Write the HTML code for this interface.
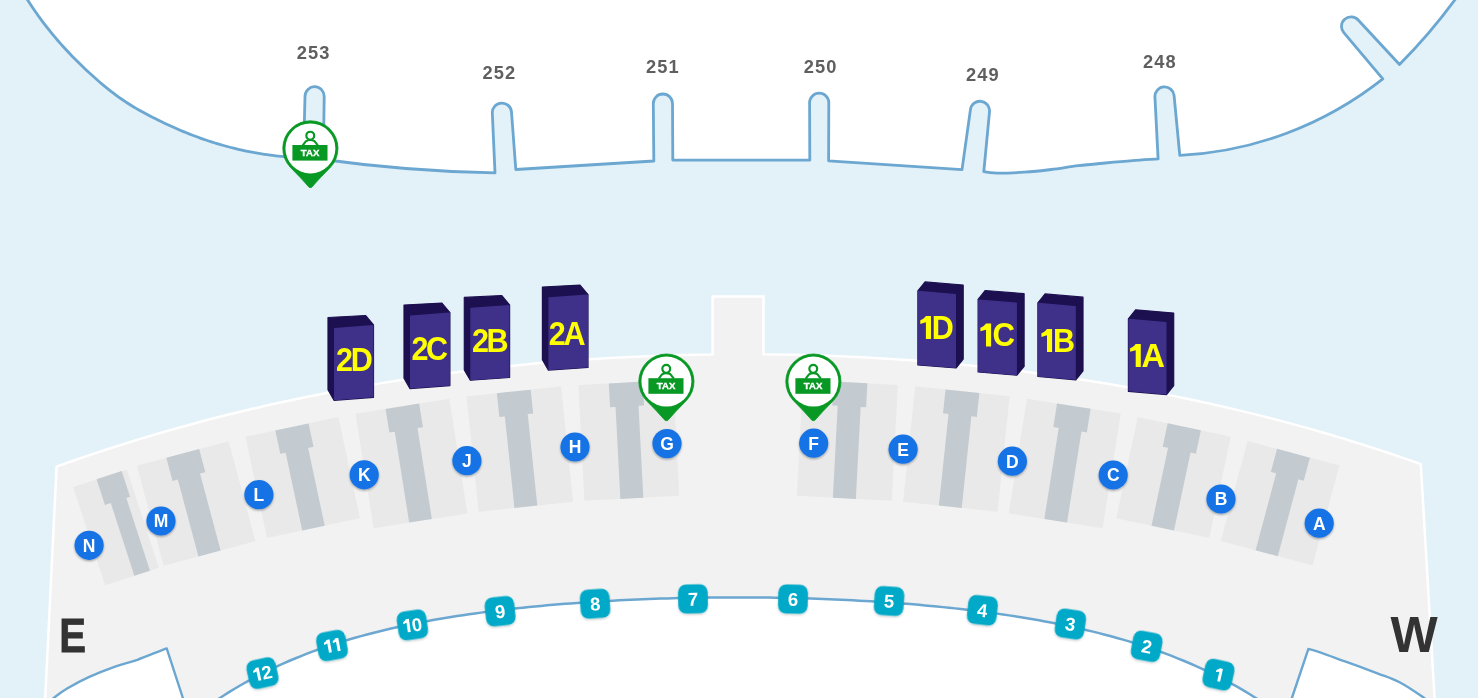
<!DOCTYPE html>
<html><head><meta charset="utf-8"><title>Terminal map</title>
<style>html,body{margin:0;padding:0;background:#e3f1f8;overflow:hidden;width:1478px;height:698px}svg{display:block;will-change:transform}</style>
</head><body>
<svg width="1478" height="698" viewBox="0 0 1478 698"><defs><filter id="sh" x="-30%" y="-30%" width="160%" height="170%"><feDropShadow dx="0" dy="1.2" stdDeviation="0.9" flood-color="#000" flood-opacity="0.35"/></filter><filter id="sh2" x="-30%" y="-30%" width="160%" height="170%"><feDropShadow dx="0" dy="1.2" stdDeviation="0.8" flood-color="#000" flood-opacity="0.22"/></filter></defs>
<rect width="1478" height="698" fill="#e3f1f8"/>
<path d="M-10,-10 L24.5,-4.98 L27.29,-0.5 L30.08,3.83 L32.87,8.02 L35.66,12.08 L38.45,16.02 L41.24,19.84 L44.03,23.56 L46.82,27.18 L49.61,30.7 L52.4,34.12 L55.19,37.47 L57.98,40.72 L60.77,43.91 L63.56,47.01 L66.35,50.05 L69.14,53.02 L71.93,55.93 L74.72,58.78 L77.51,61.58 L80.3,64.32 L83.09,67.02 L85.88,69.66 L88.67,72.26 L91.46,74.81 L94.25,77.32 L97.04,79.78 L99.83,82.19 L102.62,84.56 L105.41,86.87 L108.2,89.13 L110.99,91.32 L113.78,93.46 L116.57,95.54 L119.36,97.56 L122.15,99.51 L124.94,101.39 L127.73,103.22 L130.52,104.98 L133.31,106.69 L136.1,108.35 L138.89,109.96 L141.68,111.52 L144.47,113.04 L147.26,114.53 L150.05,115.99 L152.84,117.42 L155.63,118.82 L158.42,120.2 L161.21,121.55 L164,122.89 L166.79,124.2 L169.58,125.49 L172.37,126.76 L175.16,128 L177.95,129.22 L180.74,130.42 L183.53,131.59 L186.32,132.74 L189.11,133.86 L191.9,134.95 L194.69,136.02 L197.48,137.06 L200.27,138.07 L203.06,139.06 L205.85,140.02 L208.64,140.96 L211.43,141.87 L214.22,142.75 L217.01,143.6 L219.8,144.43 L222.59,145.24 L225.38,146.02 L228.17,146.77 L230.96,147.5 L233.75,148.2 L236.54,148.88 L239.33,149.53 L242.12,150.16 L244.91,150.76 L247.7,151.34 L250.49,151.9 L253.28,152.43 L256.07,152.94 L258.86,153.42 L261.65,153.88 L264.44,154.32 L267.23,154.73 L270.02,155.12 L272.81,155.48 L275.6,155.83 L278.39,156.15 L281.18,156.44 L283.97,156.71 L286.76,156.96 L289.55,157.19 L292.34,157.39 L295.13,157.57 L297.92,157.73 L300.71,157.87 L303.5,157.98 L305,96.12 A9.6,9.6 0 0 1 324.2,96.48 L323.3,159.5 A1423.5,1423.5 0 0 0 495,172.9 L492.32,112.97 A9.6,9.6 0 0 1 511.48,111.83 L515.8,169.5 L653.8,161 L653.3,103.67 A9.6,9.6 0 0 1 672.5,103.53 L672.8,160 L809.8,160.1 L809.6,102.8 A9.6,9.6 0 0 1 828.8,102.8 L828.6,160.8 L962,169.6 L970.47,109.47 A9.6,9.6 0 0 1 989.53,111.73 L983.8,171.7 C987.48,172.57 990.38,173.12 997.1,173.2 C1003.82,173.28 1015.08,172.82 1024.1,172.2 C1033.12,171.58 1042.17,170.58 1051.2,169.5 C1060.23,168.42 1069.28,166.78 1078.3,165.7 C1087.32,164.62 1096.28,163.85 1105.3,163 C1114.32,162.15 1123.6,161.28 1132.4,160.6 C1141.2,159.92 1151.83,159.33 1158.1,158.9 L1154.93,96.9 A9.6,9.6 0 0 1 1174.07,95.5 L1179.8,155.4 A355.4,355.4 0 0 0 1382.8,78.9 L1343.81,32.66 A9.6,9.6 0 0 1 1358.19,19.94 L1399.5,64.5 A573,573 0 0 0 1458.4,-5 L1490,-10 Z" fill="#fff" stroke="#6ba7d0" stroke-width="2.8" stroke-linejoin="round"/>
<path d="M44.6,705 L45.2,698 L56.6,466.57 L73,460.76 L89.4,455.14 L105.8,449.71 L122.2,444.46 L138.6,439.39 L155,434.49 L171.4,429.76 L187.8,425.2 L204.2,420.81 L220.6,416.58 L237,412.5 L253.4,408.59 L269.8,404.83 L286.2,401.22 L302.6,397.76 L319,394.45 L335.4,391.28 L351.8,388.25 L368.2,385.37 L384.6,382.62 L401,380.01 L417.4,377.53 L433.8,375.19 L450.2,372.98 L466.6,370.89 L483,368.94 L499.4,367.11 L515.8,365.41 L532.2,363.83 L548.6,362.37 L565,361.04 L581.4,359.83 L597.8,358.73 L614.2,357.76 L630.6,356.9 L647,356.17 L663.4,355.55 L679.8,355.04 L696.2,354.65 L712.6,354.38 L712.6,296.5 L763.5,296.5 L763.5,354.28 L779.93,354.49 L796.37,354.81 L812.8,355.25 L829.23,355.81 L845.66,356.48 L862.1,357.27 L878.53,358.18 L894.96,359.21 L911.39,360.36 L927.83,361.64 L944.26,363.03 L960.69,364.55 L977.12,366.19 L993.55,367.96 L1009.99,369.85 L1026.42,371.87 L1042.85,374.02 L1059.28,376.31 L1075.72,378.72 L1092.15,381.27 L1108.58,383.96 L1125.01,386.79 L1141.45,389.75 L1157.88,392.86 L1174.31,396.12 L1190.74,399.52 L1207.18,403.07 L1223.61,406.77 L1240.04,410.63 L1256.47,414.64 L1272.91,418.81 L1289.34,423.15 L1305.77,427.65 L1322.2,432.32 L1338.64,437.16 L1355.07,442.18 L1371.5,447.38 L1387.93,452.75 L1404.37,458.31 L1420.8,464.06 L1435,705 Z" fill="#f2f2f2" stroke="#fff" stroke-width="2.5" stroke-linejoin="miter"/>
<polygon points="136.87,465.76 228.63,441.18 255.42,541.15 163.65,565.74" fill="#e9e9e9"/>
<polygon points="166.33,457.87 199.17,449.07 205.35,472.16 200.04,473.58 220.64,550.47 198.43,556.42 177.82,479.53 172.51,480.95" fill="#c3cbd0"/>
<polygon points="245.48,436.83 338.4,417.08 359.92,518.32 267,538.07" fill="#e9e9e9"/>
<polygon points="275.31,430.49 308.57,423.42 313.54,446.8 308.16,447.94 324.71,525.8 302.21,530.59 285.66,452.73 280.28,453.87" fill="#c3cbd0"/>
<polygon points="355.47,413.68 449.3,398.82 467.44,513.39 373.61,528.26" fill="#e9e9e9"/>
<polygon points="385.59,408.91 419.17,403.59 422.91,427.2 417.48,428.06 431.89,519.03 409.17,522.62 394.76,431.66 389.33,432.52" fill="#c3cbd0"/>
<polygon points="466.52,396.38 561,386.45 573.13,501.82 478.65,511.75" fill="#e9e9e9"/>
<polygon points="496.86,393.2 530.67,389.64 533.17,413.41 527.7,413.99 537.33,505.58 514.45,507.98 504.83,416.39 499.36,416.96" fill="#c3cbd0"/>
<polygon points="578.34,384.98 673.21,380.01 679.28,495.85 584.41,500.82" fill="#e9e9e9"/>
<polygon points="608.8,383.38 642.75,381.6 644,405.47 638.51,405.76 643.33,497.73 620.36,498.94 615.54,406.96 610.05,407.25" fill="#c3cbd0"/>
<polygon points="802.99,379.96 897.86,384.94 891.79,500.78 796.92,495.81" fill="#e9e9e9"/>
<polygon points="833.45,381.56 867.4,383.34 866.15,407.21 860.66,406.92 855.84,498.89 832.87,497.69 837.69,405.72 832.2,405.43" fill="#c3cbd0"/>
<polygon points="915.2,386.37 1009.68,396.3 997.55,511.66 903.08,501.73" fill="#e9e9e9"/>
<polygon points="945.53,389.56 979.35,393.11 976.85,416.88 971.38,416.31 961.75,507.9 938.88,505.5 948.51,413.9 943.04,413.33" fill="#c3cbd0"/>
<polygon points="1026.91,398.7 1120.74,413.56 1102.6,528.13 1008.77,513.27" fill="#e9e9e9"/>
<polygon points="1057.04,403.47 1090.62,408.79 1086.88,432.39 1081.45,431.53 1067.04,522.5 1044.32,518.9 1058.73,427.94 1053.3,427.07" fill="#c3cbd0"/>
<polygon points="1137.82,416.91 1230.74,436.67 1209.22,537.9 1116.3,518.15" fill="#e9e9e9"/>
<polygon points="1167.65,423.26 1200.91,430.32 1195.94,453.7 1190.56,452.56 1174.01,530.42 1151.51,525.64 1168.06,447.78 1162.68,446.63" fill="#c3cbd0"/>
<polygon points="1247.6,440.97 1339.36,465.56 1312.57,565.53 1220.81,540.94" fill="#e9e9e9"/>
<polygon points="1277.06,448.86 1309.9,457.66 1303.72,480.75 1298.4,479.32 1277.8,556.21 1255.58,550.26 1276.19,473.37 1270.87,471.95" fill="#c3cbd0"/>
<polygon points="73.11,486.89 126.85,469.43 158.83,567.87 105.1,585.33" fill="#e9e9e9"/>
<polygon points="96.6,479.26 121.71,471.1 130.06,496.78 126.35,497.98 149.99,570.74 134.39,575.81 110.75,503.05 104.95,504.94" fill="#c3cbd0"/>
<path d="M44,706 C48.02,702.95 50.25,700.62 54.1,697.7 C57.95,694.78 61.33,691.93 67.1,688.5 C72.87,685.07 80.58,680.8 88.7,677.1 C96.82,673.4 107.68,669.18 115.8,666.3 C123.92,663.42 128.92,662.78 137.4,659.8 C145.88,656.82 159.6,650.87 166.7,648.4 L182.9,698 L185,710 L40,710 Z" fill="#fff" stroke="#6ba7d0" stroke-width="2.4" stroke-linejoin="round"/>
<path d="M1289,710 L1291.9,698 L1308.4,648.9 C1315.9,650.47 1333.5,657.33 1345,661.4 C1356.5,665.47 1368.38,669.87 1377.4,673.3 C1386.42,676.73 1391.52,678.03 1399.1,682 C1406.68,685.97 1417.42,693.27 1422.9,697.1 C1428.38,700.93 1429.15,702.02 1432,705 L1440,715 Z" fill="#fff" stroke="#6ba7d0" stroke-width="2.4" stroke-linejoin="round"/>
<path d="M205,708.28 L211,704.02 L217,699.92 L223,695.97 L229,692.17 L235,688.5 L241,684.97 L247,681.57 L253,678.29 L259,675.13 L265,672.09 L271,669.16 L277,666.34 L283,663.62 L289,661 L295,658.48 L301,656.05 L307,653.71 L313,651.45 L319,649.27 L325,647.18 L331,645.16 L337,643.21 L343,641.34 L349,639.53 L355,637.79 L361,636.11 L367,634.49 L373,632.93 L379,631.42 L385,629.97 L391,628.57 L397,627.22 L403,625.92 L409,624.66 L415,623.45 L421,622.28 L427,621.15 L433,620.06 L439,619.01 L445,618 L451,617.02 L457,616.08 L463,615.16 L469,614.29 L475,613.44 L481,612.62 L487,611.83 L493,611.07 L499,610.34 L505,609.63 L511,608.95 L517,608.29 L523,607.66 L529,607.05 L535,606.46 L541,605.9 L547,605.35 L553,604.83 L559,604.33 L565,603.85 L571,603.39 L577,602.95 L583,602.52 L589,602.12 L595,601.73 L601,601.36 L607,601.01 L613,600.68 L619,600.36 L625,600.06 L631,599.78 L637,599.51 L643,599.26 L649,599.02 L655,598.81 L661,598.6 L667,598.42 L673,598.25 L679,598.09 L685,597.95 L691,597.83 L697,597.72 L703,597.62 L709,597.54 L715,597.48 L721,597.43 L727,597.4 L733,597.38 L739,597.38 L745,597.39 L751,597.42 L757,597.47 L763,597.52 L769,597.6 L775,597.69 L781,597.79 L787,597.92 L793,598.05 L799,598.21 L805,598.37 L811,598.56 L817,598.76 L823,598.98 L829,599.21 L835,599.46 L841,599.73 L847,600.02 L853,600.32 L859,600.64 L865,600.97 L871,601.33 L877,601.7 L883,602.1 L889,602.51 L895,602.94 L901,603.39 L907,603.86 L913,604.35 L919,604.86 L925,605.39 L931,605.94 L937,606.52 L943,607.12 L949,607.74 L955,608.38 L961,609.05 L967,609.75 L973,610.47 L979,611.21 L985,611.99 L991,612.79 L997,613.62 L1003,614.48 L1009,615.37 L1015,616.29 L1021,617.24 L1027,618.23 L1033,619.25 L1039,620.3 L1045,621.4 L1051,622.53 L1057,623.7 L1063,624.91 L1069,626.17 L1075,627.47 L1081,628.81 L1087,630.2 L1093,631.64 L1099,633.13 L1105,634.67 L1111,636.27 L1117,637.92 L1123,639.63 L1129,641.4 L1135,643.24 L1141,645.14 L1147,647.1 L1153,649.14 L1159,651.25 L1165,653.44 L1171,655.7 L1177,658.05 L1183,660.48 L1189,662.99 L1195,665.6 L1201,668.3 L1207,671.1 L1213,674.01 L1219,677.01 L1225,680.13 L1231,683.36 L1237,686.71 L1243,690.18 L1249,693.77 L1255,697.5 L1261,701.36 L1267,705.37 L1273,709.51 L1277,720 L205,720 Z" fill="#fff" stroke="#6ba7d0" stroke-width="2.5" stroke-linejoin="round"/>
<g transform="translate(262.5,673.1) rotate(-12.39)"><rect x="-14.8" y="-14.5" width="29.6" height="29" rx="8" fill="#05a9c7" filter="url(#sh2)"/><path transform="translate(-8.9,-6.5) scale(0.5739)" d="M5.8,0 L10.9,0 L10.9,23 L5.8,23 L5.8,6.3 L0.2,7.9 L0.2,4.3 C2.6,3.2 4.6,1.8 5.8,0 Z" fill="#fff"/><text x="4.45" y="6.7" text-anchor="middle" font-family="Liberation Sans, sans-serif" font-weight="bold" font-size="18.5" fill="#fff">2</text></g>
<g transform="translate(332,645.5) rotate(-10.49)"><rect x="-14.8" y="-14.5" width="29.6" height="29" rx="8" fill="#05a9c7" filter="url(#sh2)"/><path transform="translate(-7.6,-6.5) scale(0.5739)" d="M5.8,0 L10.9,0 L10.9,23 L5.8,23 L5.8,6.3 L0.2,7.9 L0.2,4.3 C2.6,3.2 4.6,1.8 5.8,0 Z" fill="#fff"/><path transform="translate(1.3,-6.5) scale(0.5739)" d="M5.8,0 L10.9,0 L10.9,23 L5.8,23 L5.8,6.3 L0.2,7.9 L0.2,4.3 C2.6,3.2 4.6,1.8 5.8,0 Z" fill="#fff"/></g>
<g transform="translate(412.4,624.9) rotate(-8.37)"><rect x="-14.8" y="-14.5" width="29.6" height="29" rx="8" fill="#05a9c7" filter="url(#sh2)"/><path transform="translate(-8.9,-6.5) scale(0.5739)" d="M5.8,0 L10.9,0 L10.9,23 L5.8,23 L5.8,6.3 L0.2,7.9 L0.2,4.3 C2.6,3.2 4.6,1.8 5.8,0 Z" fill="#fff"/><text x="4.45" y="6.7" text-anchor="middle" font-family="Liberation Sans, sans-serif" font-weight="bold" font-size="18.5" fill="#fff">0</text></g>
<g transform="translate(500.1,611.2) rotate(-6.1)"><rect x="-14.8" y="-14.5" width="29.6" height="29" rx="8" fill="#05a9c7" filter="url(#sh2)"/><text x="0" y="6.7" text-anchor="middle" font-family="Liberation Sans, sans-serif" font-weight="bold" font-size="18.5" fill="#fff">9</text></g>
<g transform="translate(595.1,603.7) rotate(-3.67)"><rect x="-14.8" y="-14.5" width="29.6" height="29" rx="8" fill="#05a9c7" filter="url(#sh2)"/><text x="0" y="6.7" text-anchor="middle" font-family="Liberation Sans, sans-serif" font-weight="bold" font-size="18.5" fill="#fff">8</text></g>
<g transform="translate(693,598.9) rotate(-1.16)"><rect x="-14.8" y="-14.5" width="29.6" height="29" rx="8" fill="#05a9c7" filter="url(#sh2)"/><text x="0" y="6.7" text-anchor="middle" font-family="Liberation Sans, sans-serif" font-weight="bold" font-size="18.5" fill="#fff">7</text></g>
<g transform="translate(793,599.1) rotate(1.39)"><rect x="-14.8" y="-14.5" width="29.6" height="29" rx="8" fill="#05a9c7" filter="url(#sh2)"/><text x="0" y="6.7" text-anchor="middle" font-family="Liberation Sans, sans-serif" font-weight="bold" font-size="18.5" fill="#fff">6</text></g>
<g transform="translate(889.1,601) rotate(3.85)"><rect x="-14.8" y="-14.5" width="29.6" height="29" rx="8" fill="#05a9c7" filter="url(#sh2)"/><text x="0" y="6.7" text-anchor="middle" font-family="Liberation Sans, sans-serif" font-weight="bold" font-size="18.5" fill="#fff">5</text></g>
<g transform="translate(982.4,610.2) rotate(6.24)"><rect x="-14.8" y="-14.5" width="29.6" height="29" rx="8" fill="#05a9c7" filter="url(#sh2)"/><text x="0" y="6.7" text-anchor="middle" font-family="Liberation Sans, sans-serif" font-weight="bold" font-size="18.5" fill="#fff">4</text></g>
<g transform="translate(1070.4,624) rotate(8.51)"><rect x="-14.8" y="-14.5" width="29.6" height="29" rx="8" fill="#05a9c7" filter="url(#sh2)"/><text x="0" y="6.7" text-anchor="middle" font-family="Liberation Sans, sans-serif" font-weight="bold" font-size="18.5" fill="#fff">3</text></g>
<g transform="translate(1146.7,646.3) rotate(10.53)"><rect x="-14.8" y="-14.5" width="29.6" height="29" rx="8" fill="#05a9c7" filter="url(#sh2)"/><text x="0" y="6.7" text-anchor="middle" font-family="Liberation Sans, sans-serif" font-weight="bold" font-size="18.5" fill="#fff">2</text></g>
<g transform="translate(1218.5,674.6) rotate(12.5)"><rect x="-14.8" y="-14.5" width="29.6" height="29" rx="8" fill="#05a9c7" filter="url(#sh2)"/><path transform="translate(-3.15,-6.5) scale(0.5739)" d="M5.8,0 L10.9,0 L10.9,23 L5.8,23 L5.8,6.3 L0.2,7.9 L0.2,4.3 C2.6,3.2 4.6,1.8 5.8,0 Z" fill="#fff"/></g>
<polygon points="328,317.5 365.5,315.5 373.5,325 373.5,397.3 334,400.3 328,389.8" fill="#1c1050" stroke="#1c1050" stroke-width="1.2" stroke-linejoin="round"/><polygon points="334.7,328.7 372.8,325.7 372.8,396.6 334.7,399.6" fill="#3f318a" stroke="#3f318a" stroke-width="1.4" stroke-linejoin="round"/><text transform="translate(354.5,371) scale(0.94,1)" x="-1.3" y="0" text-anchor="middle" font-family="Liberation Sans, sans-serif" font-weight="bold" font-size="32.5" letter-spacing="-2.5" fill="#ffff00">2D</text>
<polygon points="404,305.1 441.9,303.1 449.9,312.6 449.9,385.6 410,388.6 404,378.1" fill="#1c1050" stroke="#1c1050" stroke-width="1.2" stroke-linejoin="round"/><polygon points="410.7,316.3 449.2,313.3 449.2,384.9 410.7,387.9" fill="#3f318a" stroke="#3f318a" stroke-width="1.4" stroke-linejoin="round"/><text transform="translate(429.8,359.6) scale(0.94,1)" x="-1.3" y="0" text-anchor="middle" font-family="Liberation Sans, sans-serif" font-weight="bold" font-size="32.5" letter-spacing="-2.5" fill="#ffff00">2C</text>
<polygon points="464.3,297.4 501.6,295.5 509.6,305 509.6,377.5 470.3,380.2 464.3,369.9" fill="#1c1050" stroke="#1c1050" stroke-width="1.2" stroke-linejoin="round"/><polygon points="471,308.4 508.9,305.7 508.9,376.8 471,379.5" fill="#3f318a" stroke="#3f318a" stroke-width="1.4" stroke-linejoin="round"/><text transform="translate(490.35,351.8) scale(0.94,1)" x="-1.3" y="0" text-anchor="middle" font-family="Liberation Sans, sans-serif" font-weight="bold" font-size="32.5" letter-spacing="-2.5" fill="#ffff00">2B</text>
<polygon points="542.4,287 580,285.1 588,294.6 588,367.4 548.4,370.1 542.4,359.8" fill="#1c1050" stroke="#1c1050" stroke-width="1.2" stroke-linejoin="round"/><polygon points="549.1,298 587.3,295.3 587.3,366.7 549.1,369.4" fill="#3f318a" stroke="#3f318a" stroke-width="1.4" stroke-linejoin="round"/><text transform="translate(567.25,344.7) scale(0.94,1)" x="-1.3" y="0" text-anchor="middle" font-family="Liberation Sans, sans-serif" font-weight="bold" font-size="32.5" letter-spacing="-2.5" fill="#ffff00">2A</text>
<polygon points="925.1,281.9 963.2,285 963.2,359.1 956,368 917.9,364.9 917.9,290.8" fill="#1c1050" stroke="#1c1050" stroke-width="1.2" stroke-linejoin="round"/><polygon points="918.6,291.5 955.3,294.6 955.3,367.3 918.6,364.2" fill="#3f318a" stroke="#3f318a" stroke-width="1.4" stroke-linejoin="round"/><path transform="translate(920.1,316)" d="M5.8,0 L10.9,0 L10.9,23 L5.8,23 L5.8,6.3 L0.2,7.9 L0.2,4.3 C2.6,3.2 4.6,1.8 5.8,0 Z" fill="#ffff00"/><text transform="translate(931.73,339) scale(0.94,1)" font-family="Liberation Sans, sans-serif" font-weight="bold" font-size="32.5" fill="#ffff00">D</text>
<polygon points="985.3,290.5 1024.1,293.7 1024.1,366.3 1016.9,375.2 978.1,372 978.1,299.4" fill="#1c1050" stroke="#1c1050" stroke-width="1.2" stroke-linejoin="round"/><polygon points="978.8,300.1 1016.2,303.3 1016.2,374.5 978.8,371.3" fill="#3f318a" stroke="#3f318a" stroke-width="1.4" stroke-linejoin="round"/><path transform="translate(980.2,323.4)" d="M5.8,0 L10.9,0 L10.9,23 L5.8,23 L5.8,6.3 L0.2,7.9 L0.2,4.3 C2.6,3.2 4.6,1.8 5.8,0 Z" fill="#ffff00"/><text transform="translate(992.43,346.4) scale(0.96,1)" font-family="Liberation Sans, sans-serif" font-weight="bold" font-size="32.5" fill="#ffff00">C</text>
<polygon points="1045.1,293.9 1083,297.2 1083,370.9 1075.8,379.8 1037.9,376.5 1037.9,302.8" fill="#1c1050" stroke="#1c1050" stroke-width="1.2" stroke-linejoin="round"/><polygon points="1038.6,303.5 1075.1,306.8 1075.1,379.1 1038.6,375.8" fill="#3f318a" stroke="#3f318a" stroke-width="1.4" stroke-linejoin="round"/><path transform="translate(1041.2,329)" d="M5.8,0 L10.9,0 L10.9,23 L5.8,23 L5.8,6.3 L0.2,7.9 L0.2,4.3 C2.6,3.2 4.6,1.8 5.8,0 Z" fill="#ffff00"/><text transform="translate(1052.93,352) scale(0.94,1)" font-family="Liberation Sans, sans-serif" font-weight="bold" font-size="32.5" fill="#ffff00">B</text>
<polygon points="1135.6,309.8 1173.7,313.1 1173.7,385.6 1166.5,394.6 1128.4,391.3 1128.4,318.8" fill="#1c1050" stroke="#1c1050" stroke-width="1.2" stroke-linejoin="round"/><polygon points="1129.1,319.5 1165.8,322.8 1165.8,393.9 1129.1,390.6" fill="#3f318a" stroke="#3f318a" stroke-width="1.4" stroke-linejoin="round"/><path transform="translate(1129.9,343.9)" d="M5.8,0 L10.9,0 L10.9,23 L5.8,23 L5.8,6.3 L0.2,7.9 L0.2,4.3 C2.6,3.2 4.6,1.8 5.8,0 Z" fill="#ffff00"/><text transform="translate(1141.53,366.9) scale(1.0,1)" font-family="Liberation Sans, sans-serif" font-weight="bold" font-size="32.5" fill="#ffff00">A</text>
<path d="M311.6,187.4 Q319.23,178.57 330.47,167.35 A27.6,27.6 0 1 0 290.33,167.35 Q301.57,178.57 309.2,187.4 Z" fill="#089824" stroke="#089824" stroke-width="0.8" stroke-linejoin="round"/><circle cx="310.4" cy="148.4" r="25" fill="#fff"/><circle cx="310.25" cy="135.65" r="3.9" fill="none" stroke="#089824" stroke-width="2.2"/><path d="M302.7,145.4 L306,141.1 Q310.2,138.8 314.5,141.1 L317.8,145.4" fill="none" stroke="#089824" stroke-width="2.1" stroke-linejoin="round"/><rect x="292.4" y="145" width="35.1" height="15.6" fill="#089824"/><text x="310.1" y="156.1" text-anchor="middle" font-family="Liberation Sans, sans-serif" font-weight="bold" font-size="9.6" fill="#fff" stroke="#fff" stroke-width="0.35">TAX</text>
<path d="M667.6,420.6 Q675.23,411.77 686.47,400.55 A27.6,27.6 0 1 0 646.33,400.55 Q657.57,411.77 665.2,420.6 Z" fill="#089824" stroke="#089824" stroke-width="0.8" stroke-linejoin="round"/><circle cx="666.4" cy="381.6" r="25" fill="#fff"/><circle cx="666.25" cy="368.85" r="3.9" fill="none" stroke="#089824" stroke-width="2.2"/><path d="M658.7,378.6 L662,374.3 Q666.2,372 670.5,374.3 L673.8,378.6" fill="none" stroke="#089824" stroke-width="2.1" stroke-linejoin="round"/><rect x="648.4" y="378.2" width="35.1" height="15.6" fill="#089824"/><text x="666.1" y="389.3" text-anchor="middle" font-family="Liberation Sans, sans-serif" font-weight="bold" font-size="9.6" fill="#fff" stroke="#fff" stroke-width="0.35">TAX</text>
<path d="M814.6,420.6 Q822.23,411.77 833.47,400.55 A27.6,27.6 0 1 0 793.33,400.55 Q804.57,411.77 812.2,420.6 Z" fill="#089824" stroke="#089824" stroke-width="0.8" stroke-linejoin="round"/><circle cx="813.4" cy="381.6" r="25" fill="#fff"/><circle cx="813.25" cy="368.85" r="3.9" fill="none" stroke="#089824" stroke-width="2.2"/><path d="M805.7,378.6 L809,374.3 Q813.2,372 817.5,374.3 L820.8,378.6" fill="none" stroke="#089824" stroke-width="2.1" stroke-linejoin="round"/><rect x="795.4" y="378.2" width="35.1" height="15.6" fill="#089824"/><text x="813.1" y="389.3" text-anchor="middle" font-family="Liberation Sans, sans-serif" font-weight="bold" font-size="9.6" fill="#fff" stroke="#fff" stroke-width="0.35">TAX</text>
<g filter="url(#sh)"><circle cx="89.1" cy="545.3" r="14.6" fill="#1773e5"/></g>
<text x="89.1" y="551.6" text-anchor="middle" font-family="Liberation Sans, sans-serif" font-weight="bold" font-size="17.5" fill="#fff">N</text>
<g filter="url(#sh)"><circle cx="161" cy="521" r="14.6" fill="#1773e5"/></g>
<text x="161" y="527.3" text-anchor="middle" font-family="Liberation Sans, sans-serif" font-weight="bold" font-size="17.5" fill="#fff">M</text>
<g filter="url(#sh)"><circle cx="258.9" cy="494.7" r="14.6" fill="#1773e5"/></g>
<text x="258.9" y="501" text-anchor="middle" font-family="Liberation Sans, sans-serif" font-weight="bold" font-size="17.5" fill="#fff">L</text>
<g filter="url(#sh)"><circle cx="364.2" cy="474.8" r="14.6" fill="#1773e5"/></g>
<text x="364.2" y="481.1" text-anchor="middle" font-family="Liberation Sans, sans-serif" font-weight="bold" font-size="17.5" fill="#fff">K</text>
<g filter="url(#sh)"><circle cx="466.9" cy="460.7" r="14.6" fill="#1773e5"/></g>
<text x="466.9" y="467" text-anchor="middle" font-family="Liberation Sans, sans-serif" font-weight="bold" font-size="17.5" fill="#fff">J</text>
<g filter="url(#sh)"><circle cx="575" cy="447" r="14.6" fill="#1773e5"/></g>
<text x="575" y="453.3" text-anchor="middle" font-family="Liberation Sans, sans-serif" font-weight="bold" font-size="17.5" fill="#fff">H</text>
<g filter="url(#sh)"><circle cx="667" cy="443.6" r="14.6" fill="#1773e5"/></g>
<text x="667" y="449.9" text-anchor="middle" font-family="Liberation Sans, sans-serif" font-weight="bold" font-size="17.5" fill="#fff">G</text>
<g filter="url(#sh)"><circle cx="813.7" cy="443.2" r="14.6" fill="#1773e5"/></g>
<text x="813.7" y="449.5" text-anchor="middle" font-family="Liberation Sans, sans-serif" font-weight="bold" font-size="17.5" fill="#fff">F</text>
<g filter="url(#sh)"><circle cx="903.1" cy="449.2" r="14.6" fill="#1773e5"/></g>
<text x="903.1" y="455.5" text-anchor="middle" font-family="Liberation Sans, sans-serif" font-weight="bold" font-size="17.5" fill="#fff">E</text>
<g filter="url(#sh)"><circle cx="1012.4" cy="461.2" r="14.6" fill="#1773e5"/></g>
<text x="1012.4" y="467.5" text-anchor="middle" font-family="Liberation Sans, sans-serif" font-weight="bold" font-size="17.5" fill="#fff">D</text>
<g filter="url(#sh)"><circle cx="1113.2" cy="475" r="14.6" fill="#1773e5"/></g>
<text x="1113.2" y="481.3" text-anchor="middle" font-family="Liberation Sans, sans-serif" font-weight="bold" font-size="17.5" fill="#fff">C</text>
<g filter="url(#sh)"><circle cx="1221" cy="499" r="14.6" fill="#1773e5"/></g>
<text x="1221" y="505.3" text-anchor="middle" font-family="Liberation Sans, sans-serif" font-weight="bold" font-size="17.5" fill="#fff">B</text>
<g filter="url(#sh)"><circle cx="1319.2" cy="523.2" r="14.6" fill="#1773e5"/></g>
<text x="1319.2" y="529.5" text-anchor="middle" font-family="Liberation Sans, sans-serif" font-weight="bold" font-size="17.5" fill="#fff">A</text>
<text x="313.55" y="59" text-anchor="middle" font-family="Liberation Sans, sans-serif" font-weight="bold" font-size="18.3" letter-spacing="1.1" fill="#5f5f5f">253</text>
<text x="499.45" y="78.5" text-anchor="middle" font-family="Liberation Sans, sans-serif" font-weight="bold" font-size="18.3" letter-spacing="1.1" fill="#5f5f5f">252</text>
<text x="662.85" y="73.4" text-anchor="middle" font-family="Liberation Sans, sans-serif" font-weight="bold" font-size="18.3" letter-spacing="1.1" fill="#5f5f5f">251</text>
<text x="820.55" y="73.4" text-anchor="middle" font-family="Liberation Sans, sans-serif" font-weight="bold" font-size="18.3" letter-spacing="1.1" fill="#5f5f5f">250</text>
<text x="982.95" y="81" text-anchor="middle" font-family="Liberation Sans, sans-serif" font-weight="bold" font-size="18.3" letter-spacing="1.1" fill="#5f5f5f">249</text>
<text x="1159.85" y="68.4" text-anchor="middle" font-family="Liberation Sans, sans-serif" font-weight="bold" font-size="18.3" letter-spacing="1.1" fill="#5f5f5f">248</text>
<text transform="translate(59.2,651.6) scale(0.82,1)" font-family="Liberation Sans, sans-serif" font-weight="bold" font-size="49" fill="#333" stroke="#333" stroke-width="0.8">E</text>
<text transform="translate(1390.6,652) scale(1,1)" font-family="Liberation Sans, sans-serif" font-weight="bold" font-size="50" fill="#333">W</text></svg>
</body></html>
